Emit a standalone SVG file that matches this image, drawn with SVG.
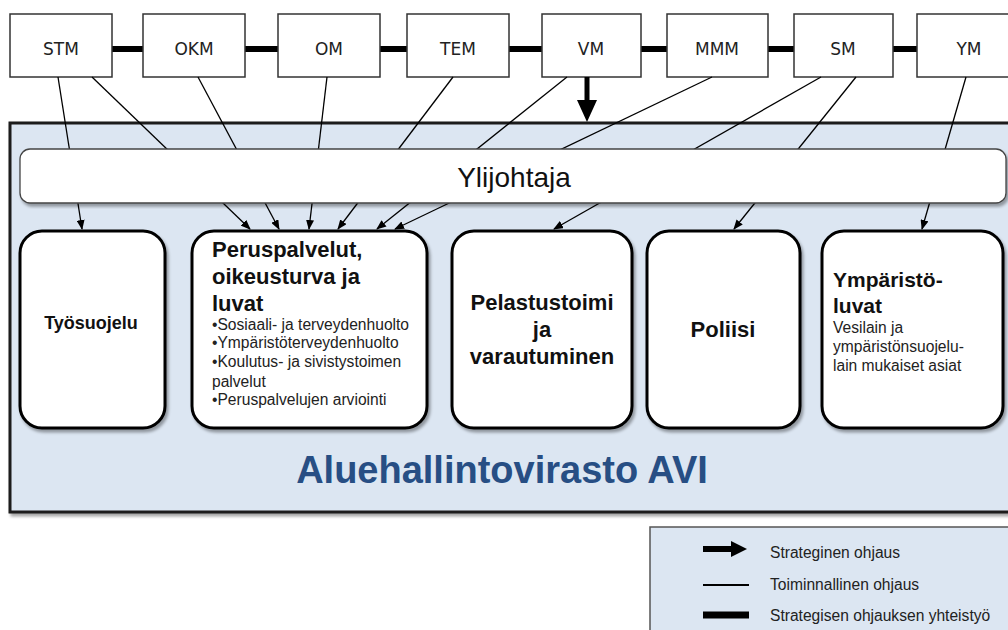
<svg xmlns="http://www.w3.org/2000/svg" width="1008" height="630" viewBox="0 0 1008 630">
<style>
.min{fill:#fff;stroke:#333;stroke-width:1.5}
.mt{font-family:"DejaVu Sans",Verdana,sans-serif;font-size:17px;fill:#222;text-anchor:middle}
.co{stroke:#000;stroke-width:6}
.ln{stroke:#000;stroke-width:1.3;fill:none;marker-end:url(#ah)}
.unit{fill:#fff;stroke:#000;stroke-width:3}
.bt{font-family:"Liberation Sans",Arial,sans-serif;font-weight:bold;fill:#111}
.st{font-family:"Liberation Sans",Arial,sans-serif;font-size:15.6px;fill:#222}
.lg{font-family:"Liberation Sans",Arial,sans-serif;font-size:15.6px;fill:#222}
</style>
<defs>
<marker id="ah" markerWidth="10" markerHeight="8" refX="9" refY="4" orient="auto" markerUnits="userSpaceOnUse">
<path d="M0,0 L10,4 L0,8 Z" fill="#000"/>
</marker>
<filter id="sh" x="-5%" y="-5%" width="115%" height="115%">
<feDropShadow dx="2" dy="3" stdDeviation="1.5" flood-color="#000" flood-opacity="0.35"/>
</filter>
</defs>
<rect width="1008" height="630" fill="#fff"/>

<g id="avi">
<rect x="10" y="123" width="1010" height="389" fill="#dce6f2" stroke="#1a1a1a" stroke-width="3" filter="url(#sh)"/>
<text x="502" y="483" text-anchor="middle" font-family="'Liberation Sans',Arial,sans-serif" font-weight="bold" font-size="38" fill="#274e84">Aluehallintovirasto AVI</text>
</g>

<g id="collab">
<line class="co" x1="112" y1="49" x2="143" y2="49"/>
<line class="co" x1="245" y1="49" x2="278" y2="49"/>
<line class="co" x1="380" y1="49" x2="407" y2="49"/>
<line class="co" x1="509" y1="49" x2="542" y2="49"/>
<line class="co" x1="641" y1="49" x2="667" y2="49"/>
<line class="co" x1="768" y1="49" x2="794" y2="49"/>
<line class="co" x1="893" y1="49" x2="917" y2="49"/>
</g>

<g id="ministries">
<g id="stm"><rect class="min" x="10" y="14" width="102" height="63"/><text class="mt" x="61" y="55">STM</text></g>
<g id="okm"><rect class="min" x="143" y="14" width="102" height="63"/><text class="mt" x="194" y="55">OKM</text></g>
<g id="om"><rect class="min" x="278" y="14" width="102" height="63"/><text class="mt" x="329" y="55">OM</text></g>
<g id="tem"><rect class="min" x="407" y="14" width="102" height="63"/><text class="mt" x="458" y="55">TEM</text></g>
<g id="vm"><rect class="min" x="542" y="14" width="99" height="63"/><text class="mt" x="591" y="55">VM</text></g>
<g id="mmm"><rect class="min" x="667" y="14" width="101" height="63"/><text class="mt" x="717" y="55">MMM</text></g>
<g id="sm"><rect class="min" x="794" y="14" width="99" height="63"/><text class="mt" x="843" y="55">SM</text></g>
<g id="ym"><rect class="min" x="917" y="14" width="103" height="63"/><text class="mt" x="969" y="55">YM</text></g>
</g>

<g id="connectors">
<line class="ln" x1="58" y1="77" x2="82" y2="229"/>
<line class="ln" x1="92" y1="77" x2="250" y2="229"/>
<line class="ln" x1="198" y1="77" x2="279" y2="229"/>
<line class="ln" x1="327" y1="77" x2="309" y2="229"/>
<line class="ln" x1="453" y1="77" x2="338" y2="229"/>
<line class="ln" x1="567" y1="77" x2="377" y2="229"/>
<line class="ln" x1="712" y1="77" x2="395" y2="229"/>
<line class="ln" x1="821" y1="77" x2="554" y2="229"/>
<line class="ln" x1="856" y1="77" x2="734" y2="229"/>
<line class="ln" x1="966" y1="77" x2="922" y2="229"/>
<line x1="587" y1="77" x2="587" y2="101" stroke="#000" stroke-width="5"/>
<path d="M577,100 L597,100 L587,122 Z" fill="#000"/>
</g>

<g id="ylijohtaja">
<rect x="20" y="149" width="986" height="54" rx="10" fill="#fff" stroke="#444" stroke-width="1.3" filter="url(#sh)"/>
<text x="514" y="187" text-anchor="middle" font-family="'Liberation Sans',Arial,sans-serif" font-size="28" fill="#111">Ylijohtaja</text>
</g>

<g id="tyosuojelu">
<rect class="unit" x="20" y="231" width="145" height="197" rx="22" filter="url(#sh)"/>
<text class="bt" x="91" y="329" font-size="18" text-anchor="middle">Työsuojelu</text>
</g>

<g id="peruspalvelut">
<rect class="unit" x="192" y="231" width="235" height="197" rx="22" filter="url(#sh)"/>
<text class="bt" font-size="22"><tspan x="212" y="257">Peruspalvelut,</tspan><tspan x="212" y="284">oikeusturva ja</tspan><tspan x="212" y="311">luvat</tspan></text>
<text class="st"><tspan x="212" y="330">•Sosiaali- ja terveydenhuolto</tspan><tspan x="212" y="348">•Ympäristöterveydenhuolto</tspan><tspan x="212" y="367">•Koulutus- ja sivistystoimen</tspan><tspan x="212" y="387">palvelut</tspan><tspan x="212" y="405">•Peruspalvelujen arviointi</tspan></text>
</g>

<g id="pelastustoimi">
<rect class="unit" x="452" y="231" width="180" height="197" rx="22" filter="url(#sh)"/>
<text class="bt" font-size="22" text-anchor="middle"><tspan x="542" y="310">Pelastustoimi</tspan><tspan x="542" y="337">ja</tspan><tspan x="542" y="364">varautuminen</tspan></text>
</g>

<g id="poliisi">
<rect class="unit" x="647" y="231" width="153" height="197" rx="22" filter="url(#sh)"/>
<text class="bt" x="723" y="337" font-size="22" text-anchor="middle">Poliisi</text>
</g>

<g id="ymparistoluvat">
<rect class="unit" x="822" y="231" width="181" height="197" rx="22" filter="url(#sh)"/>
<text class="bt" font-size="21"><tspan x="833" y="287">Ympäristö-</tspan><tspan x="833" y="313">luvat</tspan></text>
<text class="st"><tspan x="833" y="333">Vesilain ja</tspan><tspan x="833" y="352">ympäristönsuojelu-</tspan><tspan x="833" y="371">lain mukaiset asiat</tspan></text>
</g>

<g id="legend">
<rect x="650" y="527" width="370" height="115" fill="#dce6f2" stroke="#555" stroke-width="1.5"/>
<line x1="703" y1="549" x2="732" y2="549" stroke="#000" stroke-width="6"/>
<path d="M731,541 L747,549 L731,557 Z" fill="#000"/>
<line x1="703" y1="585" x2="749" y2="585" stroke="#000" stroke-width="2"/>
<line x1="703" y1="615" x2="749" y2="615" stroke="#000" stroke-width="7"/>
<text class="lg" x="770" y="558">Strateginen ohjaus</text>
<text class="lg" x="770" y="590">Toiminnallinen ohjaus</text>
<text class="lg" x="770" y="621">Strategisen ohjauksen yhteistyö</text>
</g>
</svg>
